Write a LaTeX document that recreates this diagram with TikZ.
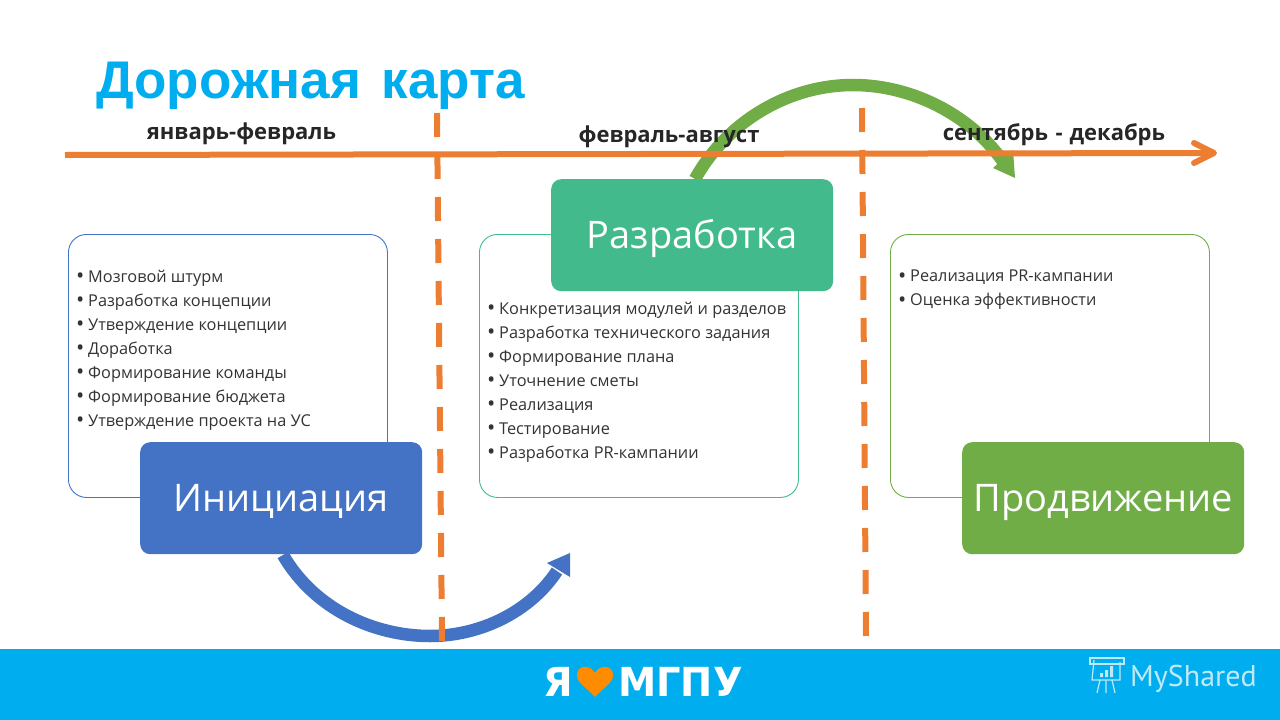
\documentclass[tikz,border=0pt]{standalone}
\usepackage{fontspec}
\setmainfont{Open Sans}
\newfontfamily\titlefont{Liberation Sans}
\newfontfamily\logofont{DejaVu Sans}
\newfontfamily\mysfont{PT Sans}
\definecolor{cyanbar}{HTML}{00ADEF}
\definecolor{orangeline}{HTML}{ED7D31}
\definecolor{bluebox}{HTML}{4472C4}
\definecolor{tealbox}{HTML}{43BA8B}
\definecolor{greenbox}{HTML}{70AD47}
\definecolor{heart}{HTML}{FF8C00}
\definecolor{mysh}{HTML}{BFE9F7}
\tikzset{
  panel/.style={draw=#1,fill=white,line width=0.9pt,rounded corners=18pt,minimum width=319pt,minimum height=263pt,anchor=north west,inner sep=0pt},
  headbox/.style={fill=#1,rounded corners=10pt,minimum width=282pt,minimum height=112pt,anchor=north west,inner sep=0pt,text=white,font=\fontsize{38}{40}\selectfont,text depth=0pt,text height=27pt},
  bullets/.style={anchor=north west,align=left,inner sep=0pt,text=black!80,font=\fontsize{16.3}{24}\selectfont},
  period/.style={anchor=base,inner sep=0pt,font=\fontsize{22}{24}\selectfont\bfseries,text=black!85},
  dashline/.style={orangeline,line width=6pt,dash pattern=on 24pt off 18pt},
  timeline/.style={orangeline,line width=6pt,line cap=round,line join=round},
  sweep/.style={line width=12.5pt,#1}
}
\newcommand{\bl}[1]{\makebox[12pt][l]{\raisebox{-1.3pt}{\fontsize{22}{24}\selectfont •}}#1}
\begin{document}
\begin{tikzpicture}[x=1pt,y=-1pt]
\useasboundingbox (0,0) rectangle (1280,720);
\fill[cyanbar] (0,649) rectangle (1280,720);

\node[anchor=base west,inner sep=0pt,text=cyanbar,font=\fontsize{53}{60}\selectfont\titlefont\bfseries] (title) at (96,98) {Дорожная\hspace{6pt} карта};

% panels
\node[panel=bluebox] (p1) at (68,234) {};
\node[panel=tealbox] (p2) at (479,234) {};
\node[panel=greenbox] (p3) at (890,234) {};

\node[bullets] (t1) at (76,270) {\bl{Мозговой штурм}\\\bl{Разработка концепции}\\\bl{Утверждение концепции}\\\bl{Доработка}\\\bl{Формирование команды}\\\bl{Формирование бюджета}\\\bl{Утверждение проекта на УС}};
\node[bullets] (t2) at (487,302) {\bl{Конкретизация модулей и разделов}\\\bl{Разработка технического задания}\\\bl{Формирование плана}\\\bl{Уточнение сметы}\\\bl{Реализация}\\\bl{Тестирование}\\\bl{Разработка PR-кампании}};
\node[bullets] (t3) at (898,270) {\bl{Реализация PR-кампании}\\\bl{Оценка эффективности}};

% green sweep
\coordinate (gstart) at (695,179);
\coordinate (gend) at (1006,166);
\coordinate (gtip) at (1015,178);
\coordinate (gbarbA) at (993,168);
\coordinate (gbarbB) at (1013,150);
\draw[sweep=greenbox] (gstart) .. controls (728,120) and (790,85) .. (853,85) .. controls (915,85) and (975,118) .. (gend);
\fill[greenbox] (gtip) -- (gbarbA) -- (gbarbB) -- cycle;

% timeline
\coordinate (tlstart) at (65,155);
\coordinate (tlend) at (1214,153);
\coordinate (tlbarbA) at (1194,143);
\coordinate (tlbarbB) at (1194,163);
\draw[timeline,line cap=butt] (tlstart) -- (tlend);
\draw[timeline] (tlbarbA) -- (tlend) -- (tlbarbB);

\node[headbox=bluebox] (ini) at (140,442) {Инициация};
\node[headbox=tealbox] (dev) at (551,179) {Разработка};
\node[headbox=greenbox] (pro) at (962,442) {Продвижение};

% blue sweep
\coordinate (bstart) at (283,555);
\coordinate (bend) at (557,571);
\coordinate (btip) at (570,553);
\coordinate (bbarbA) at (547,563);
\coordinate (bbarbB) at (570,577);
\draw[sweep=bluebox] (bstart) .. controls (315,610) and (375,636) .. (430,636) .. controls (480,636) and (530,612) .. (bend);
\fill[bluebox] (btip) -- (bbarbA) -- (bbarbB) -- cycle;

% dashed dividers
\coordinate (d1a) at (437,113);
\coordinate (d1b) at (442,641);
\coordinate (d2a) at (862,108);
\coordinate (d2b) at (866,636);
\draw[dashline] (d1a) -- (d1b);
\draw[dashline] (d2a) -- (d2b);

\node[period] (m1) at (241.5,139) {январь-февраль};
\node[period] (m2) at (669,142) {февраль-август};
\node[period] (m3) at (1054,140) {сентябрь\hspace{2pt} - \hspace{1pt}декабрь};

% logo
\node[anchor=base west,inner sep=0pt,text=white,xscale=0.96,font=\fontsize{40}{40}\selectfont\logofont\bfseries] (ya) at (543,696) {Я};
\node[anchor=base west,inner sep=0pt,text=white,xscale=0.96,font=\fontsize{40}{40}\selectfont\logofont\bfseries] (mgpu) at (618,696) {МГПУ};
\fill[heart] (595,697) .. controls (586,687) and (577,683) .. (577,675) .. controls (577,665) and (590,664) .. (595,673) .. controls (600,664) and (613,665) .. (613,675) .. controls (613,683) and (604,687) .. (595,697) -- cycle;

% MyShared
\node[anchor=base west,inner sep=0pt,text=mysh,font=\fontsize{30}{32}\selectfont\mysfont] (mys) at (1130,686) {MyShared};
\begin{scope}[mysh,line width=1.2pt]
\draw (1094,660) -- (1092,680) -- (1120,680) -- (1120,662);
\draw (1090,658) rectangle (1124,664);
\draw (1100,680) -- (1097,693) (1106,680) -- (1106,693) (1112,680) -- (1115,693);
\fill (1100,673) rectangle (1103,677) (1105,670) rectangle (1108,677) (1110,666) rectangle (1113,677);
\end{scope}
\end{tikzpicture}
\end{document}
